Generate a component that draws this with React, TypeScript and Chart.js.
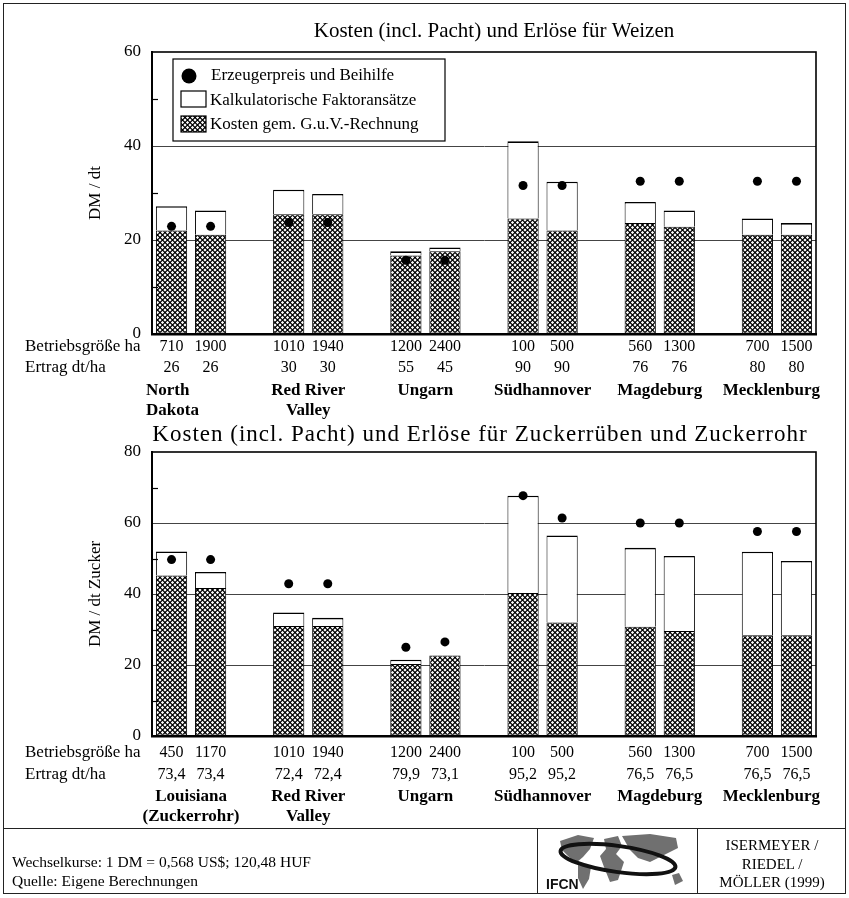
import React, { useEffect, useRef } from 'react';
import { Chart, registerables } from 'chart.js';

Chart.register(...registerables);

const SERIF = '"Liberation Serif", "Times New Roman", serif';

// ---------- Legend labels ----------
const legendLabels = ['Erzeugerpreis und Beihilfe', 'Kalkulatorische Faktoransätze', 'Kosten gem. G.u.V.-Rechnung'];
const rowLabels = ['Betriebsgröße ha', 'Ertrag dt/ha'];

// ---------- Weizen (top chart) ----------
const wheatSizes = ['710', '1900', '1010', '1940', '1200', '2400', '100', '500', '560', '1300', '700', '1500'];
const wheatYields = ['26', '26', '30', '30', '55', '45', '90', '90', '76', '76', '80', '80'];
const wheatRegions = [['North', 'Dakota'], ['Red River', 'Valley'], ['Ungarn'], ['Südhannover'], ['Magdeburg'], ['Mecklenburg']];
const wheatGuV = [22.0, 21.1, 25.5, 25.5, 16.7, 17.6, 24.6, 22.0, 23.6, 22.8, 21.1, 21.1];
const wheatCalc = [5.2, 5.2, 5.2, 4.3, 0.9, 0.8, 16.4, 10.4, 4.5, 3.5, 3.5, 2.5];
const wheatPrice = [22.9, 22.9, 23.7, 23.7, 15.7, 15.7, 31.6, 31.6, 32.5, 32.5, 32.5, 32.5];

// ---------- Zucker (bottom chart) ----------
const sugarSizes = ['450', '1170', '1010', '1940', '1200', '2400', '100', '500', '560', '1300', '700', '1500'];
const sugarYields = ['73,4', '73,4', '72,4', '72,4', '79,9', '73,1', '95,2', '95,2', '76,5', '76,5', '76,5', '76,5'];
const sugarRegions = [['Louisiana', '(Zuckerrohr)'], ['Red River', 'Valley'], ['Ungarn'], ['Südhannover'], ['Magdeburg'], ['Mecklenburg']];
const sugarGuV = [45.2, 41.7, 31.0, 31.0, 20.3, 22.7, 40.3, 32.0, 30.8, 29.6, 28.4, 28.4];
const sugarCalc = [6.8, 4.5, 3.8, 2.3, 1.2, 0, 27.4, 24.5, 22.2, 21.1, 23.5, 20.9];
const sugarPrice = [49.7, 49.7, 42.9, 42.9, 25.0, 26.5, 67.7, 61.4, 60.0, 60.0, 57.6, 57.6];

function expand<T>(arr: T[], gap: T): T[] {
  const out: T[] = [];
  for (let g = 0; g < arr.length / 2; g++) {
    if (g > 0) out.push(gap);
    out.push(arr[2 * g], arr[2 * g + 1]);
  }
  return out;
}

function makeHatch(): any {
  const P = 5;
  const c = document.createElement('canvas');
  c.width = P;
  c.height = P;
  const g = c.getContext('2d')!;
  const img = g.createImageData(P, P);
  const r = 1.75;
  const centers = [[0, 0], [P, 0], [0, P], [P, P], [P / 2, P / 2]];
  const S = 4;
  for (let y = 0; y < P; y++) {
    for (let x = 0; x < P; x++) {
      let cov = 0;
      for (let sy = 0; sy < S; sy++) {
        for (let sx = 0; sx < S; sx++) {
          const px = x + (sx + 0.5) / S;
          const py = y + (sy + 0.5) / S;
          let inside = false;
          for (const [cx, cy] of centers) {
            if (Math.abs(px - cx) + Math.abs(py - cy) < r) inside = true;
          }
          if (inside) cov++;
        }
      }
      const v = Math.round((255 * cov) / (S * S));
      const i = (y * P + x) * 4;
      img.data[i] = v;
      img.data[i + 1] = v;
      img.data[i + 2] = v;
      img.data[i + 3] = 255;
    }
  }
  g.putImageData(img, 0, 0);
  return g.createPattern(c, 'repeat');
}

type PanelCfg = {
  title: string;
  titleSize: number;
  titleSpacing: number;
  titleY: number;
  titleDx: number;
  yTitle: string;
  yMax: number;
  sizes: string[];
  yields: string[];
  regions: string[][];
  guv: number[];
  calc: number[];
  price: number[];
  height: number;
  plotTop: number;
  plotBottom: number;
  tickPad: number;
  tickLH: number;
  regionOffset: number;
  regionLH: number;
  dotRadius: number;
  legend: boolean;
  firstRegionLeft: boolean;
};

const decoPlugin = {
  id: 'deco',
  afterDraw(chart: any, _args: any, opts: any) {
    const cfg: PanelCfg = opts.cfg;
    const hatch = opts.hatch;
    if (!cfg) return;
    const { ctx, chartArea: a, scales } = chart;
    const x = scales.x;
    const y = scales.y;
    ctx.save();
    // plot frame
    ctx.strokeStyle = '#000';
    ctx.lineWidth = 1.6;
    ctx.strokeRect(a.left, a.top, a.right - a.left, a.bottom - a.top);
    // inner minor ticks
    ctx.lineWidth = 1.2;
    for (let v = 10; v < cfg.yMax; v += 20) {
      const py = Math.round(y.getPixelForValue(v)) + 0.5;
      ctx.beginPath();
      ctx.moveTo(a.left, py);
      ctx.lineTo(a.left + 6, py);
      ctx.stroke();
    }
    ctx.fillStyle = '#000';
    // title
    ctx.save();
    ctx.font = `${cfg.titleSize}px ${SERIF}`;
    (ctx as any).letterSpacing = `${cfg.titleSpacing}px`;
    ctx.textAlign = 'center';
    ctx.textBaseline = 'middle';
    ctx.fillText(cfg.title, (a.left + a.right) / 2 + cfg.titleDx, cfg.titleY);
    ctx.restore();
    ctx.textBaseline = 'middle';
    ctx.textAlign = 'center';
    // y title
    ctx.save();
    ctx.font = `17px ${SERIF}`;
    ctx.translate(96, (a.top + a.bottom) / 2);
    ctx.rotate(-Math.PI / 2);
    ctx.fillText(cfg.yTitle, 0, 0);
    ctx.restore();
    // row labels
    ctx.font = `17px ${SERIF}`;
    ctx.textAlign = 'left';
    rowLabels.forEach((t, i) => {
      ctx.fillText(t, 25, x.top + cfg.tickPad + cfg.tickLH / 2 + i * cfg.tickLH);
    });
    // region names
    ctx.font = `bold 17px ${SERIF}`;
    cfg.regions.forEach((lines, g) => {
      const cx = (x.getPixelForValue(3 * g) + x.getPixelForValue(3 * g + 1)) / 2;
      lines.forEach((t, i) => {
        const py = x.top + cfg.regionOffset + i * cfg.regionLH;
        if (g === 0 && cfg.firstRegionLeft) {
          ctx.textAlign = 'left';
          ctx.fillText(t, a.left - 6, py);
        } else {
          const w = ctx.measureText(t).width;
          let px = cx;
          if (px + w / 2 > a.right + 4) px = a.right + 4 - w / 2;
          ctx.textAlign = 'center';
          ctx.fillText(t, px, py);
        }
      });
    });
    // legend
    if (cfg.legend) {
      const lx = a.left + 21;
      const ly = a.top + 7;
      const lw = 272;
      const lh = 82;
      ctx.fillStyle = '#fff';
      ctx.fillRect(lx, ly, lw, lh);
      ctx.strokeStyle = '#000';
      ctx.lineWidth = 1.2;
      ctx.strokeRect(lx, ly, lw, lh);
      ctx.fillStyle = '#000';
      ctx.beginPath();
      ctx.arc(lx + 16, ly + 17, 7.5, 0, Math.PI * 2);
      ctx.fill();
      // white box
      ctx.lineWidth = 1.2;
      ctx.strokeRect(lx + 8, ly + 32, 25, 16);
      // hatched box
      ctx.fillStyle = hatch;
      ctx.fillRect(lx + 8, ly + 57, 25, 16);
      ctx.strokeRect(lx + 8, ly + 57, 25, 16);
      ctx.fillStyle = '#000';
      ctx.font = `17px ${SERIF}`;
      ctx.textAlign = 'left';
      ctx.textBaseline = 'middle';
      ctx.fillText(legendLabels[0], lx + 38, ly + 17);
      ctx.fillText(legendLabels[1], lx + 37, ly + 42);
      ctx.fillText(legendLabels[2], lx + 37, ly + 66);
    }
    ctx.restore();
  },
};

function buildChart(canvas: HTMLCanvasElement, cfg: PanelCfg) {
  const hatch = makeHatch();
  const labels = expand(cfg.sizes.map((s, i) => [s, cfg.yields[i]]), [] as string[]);
  const rightEdge = 816;
  return new Chart(canvas, {
    type: 'bar',
    data: {
      labels: labels as any,
      datasets: [
        {
          type: 'line',
          label: legendLabels[0],
          data: expand(cfg.price, null as any),
          showLine: false,
          pointRadius: cfg.dotRadius,
          pointHoverRadius: cfg.dotRadius,
          pointBackgroundColor: '#000',
          pointBorderColor: '#000',
          pointBorderWidth: 0,
          stack: 'dots',
        } as any,
        {
          type: 'bar',
          label: legendLabels[2],
          data: expand(cfg.guv, null as any),
          backgroundColor: hatch,
          borderColor: '#000',
          borderWidth: 1,
          borderSkipped: false,
          stack: 'cost',
          barPercentage: 0.8,
          categoryPercentage: 1,
        } as any,
        {
          type: 'bar',
          label: legendLabels[1],
          data: expand(cfg.calc, null as any),
          backgroundColor: '#fff',
          borderColor: '#000',
          borderWidth: { top: 1.6, left: 1, right: 1, bottom: 0 },
          borderSkipped: false,
          stack: 'cost',
          barPercentage: 0.8,
          categoryPercentage: 1,
        } as any,
      ],
    },
    options: {
      animation: false,
      responsive: false,
      devicePixelRatio: 1,
      layout: { padding: { left: 0, right: 849 - rightEdge, top: cfg.plotTop, bottom: 0 } },
      plugins: {
        legend: { display: false },
        title: { display: false },
        tooltip: { enabled: false },
        deco: { cfg, hatch },
      } as any,
      scales: {
        x: {
          stacked: true,
          grid: { display: false, drawTicks: false },
          border: { display: true, color: '#000', width: 2.5 },
          ticks: {
            autoSkip: false,
            maxRotation: 0,
            minRotation: 0,
            padding: cfg.tickPad,
            color: '#000',
            font: { family: SERIF, size: 16, lineHeight: cfg.tickLH / 16 },
          },
          afterFit: (s: any) => {
            s.height = cfg.height - cfg.plotBottom;
          },
        },
        y: {
          stacked: true,
          min: 0,
          max: cfg.yMax,
          ticks: {
            stepSize: 10,
            padding: 11,
            color: '#000',
            font: { family: SERIF, size: 17 },
            callback: (v: any) => (Number(v) % 20 === 0 ? String(v) : ''),
          },
          grid: {
            drawTicks: false,
            lineWidth: 1,
            color: (c: any) => {
              const v = c.tick ? c.tick.value : -1;
              return v % 20 === 0 && v > 0 && v < cfg.yMax ? '#444' : 'rgba(0,0,0,0)';
            },
          },
          border: { display: true, color: '#000', width: 2 },
          afterFit: (s: any) => {
            s.width = 152;
          },
        },
      },
    } as any,
    plugins: [decoPlugin as any],
  });
}

const topCfg: PanelCfg = {
  title: 'Kosten (incl. Pacht) und Erlöse für Weizen',
  titleSize: 21,
  titleSpacing: 0,
  titleY: 31,
  titleDx: 10,
  yTitle: 'DM / dt',
  yMax: 60,
  sizes: wheatSizes,
  yields: wheatYields,
  regions: wheatRegions,
  guv: wheatGuV,
  calc: wheatCalc,
  price: wheatPrice,
  height: 420,
  plotTop: 52,
  plotBottom: 334,
  tickPad: 2,
  tickLH: 21,
  regionOffset: 57,
  regionLH: 20,
  dotRadius: 4.5,
  legend: true,
  firstRegionLeft: true,
};

const bottomCfg: PanelCfg = {
  title: 'Kosten (incl. Pacht) und Erlöse für Zuckerrüben und Zuckerrohr',
  titleSize: 23,
  titleSpacing: 1,
  titleY: 15,
  titleDx: -4,
  yTitle: 'DM / dt Zucker',
  yMax: 80,
  sizes: sugarSizes,
  yields: sugarYields,
  regions: sugarRegions,
  guv: sugarGuV,
  calc: sugarCalc,
  price: sugarPrice,
  height: 408,
  plotTop: 32,
  plotBottom: 316,
  tickPad: 6,
  tickLH: 22,
  regionOffset: 61,
  regionLH: 20,
  dotRadius: 4.5,
  legend: false,
  firstRegionLeft: false,
};

function Panel({ cfg, top }: { cfg: PanelCfg; top: number }) {
  const ref = useRef<HTMLCanvasElement>(null);
  useEffect(() => {
    if (!ref.current) return;
    const chart = buildChart(ref.current, cfg);
    return () => chart.destroy();
  }, [cfg]);
  return (
    <canvas
      ref={ref}
      width={849}
      height={cfg.height}
      style={{ position: 'absolute', left: 0, top, width: 849, height: cfg.height }}
    />
  );
}

function Logo() {
  return (
    <svg
      width={158}
      height={64}
      style={{ position: 'absolute', left: 538, top: 829 }}
      viewBox="0 0 158 64"
    >
      <g fill="#707070">
        <path d="M22,12 L40,6 L56,9 L52,20 L45,28 L38,34 L30,27 L24,21 Z" />
        <path d="M40,36 L53,38 L51,50 L45,60 L40,49 Z" />
        <path d="M66,10 L80,7 L84,17 L78,25 L86,33 L80,51 L72,53 L66,38 L62,27 L68,20 Z" />
        <path d="M84,7 L112,5 L138,9 L140,19 L124,27 L112,33 L100,29 L92,21 Z" />
        <path d="M134,46 L141,44 L145,52 L137,56 Z" />
      </g>
      <ellipse cx={80} cy={30} rx={58} ry={13} fill="none" stroke="#111" strokeWidth={4} transform="rotate(8 80 30)" />
      <text x={8} y={60} fontFamily='"Liberation Sans", Arial, sans-serif' fontWeight="bold" fontSize={14} fill="#111">
        IFCN
      </text>
    </svg>
  );
}

export default function App() {
  return (
    <div
      style={{
        position: 'absolute',
        left: 0,
        top: 0,
        width: 849,
        height: 898,
        background: '#fff',
        overflow: 'hidden',
        fontFamily: SERIF,
        color: '#000',
      }}
    >
      <Panel cfg={topCfg} top={0} />
      <Panel cfg={bottomCfg} top={420} />
      {/* outer frame */}
      <div
        style={{
          position: 'absolute',
          left: 3,
          top: 3,
          width: 843,
          height: 891,
          border: '1.5px solid #222',
          boxSizing: 'border-box',
          pointerEvents: 'none',
        }}
      />
      <div style={{ position: 'absolute', left: 3, top: 828, width: 843, height: 0, borderTop: '1.5px solid #222' }} />
      <div style={{ position: 'absolute', left: 537, top: 828, width: 0, height: 66, borderLeft: '1px solid #222' }} />
      <div style={{ position: 'absolute', left: 697, top: 828, width: 0, height: 66, borderLeft: '1px solid #222' }} />
      <div style={{ position: 'absolute', left: 12, top: 852, fontSize: 15.5, lineHeight: '19px', whiteSpace: 'nowrap' }}>
        <div>Wechselkurse: 1 DM = 0,568 US$; 120,48 HUF</div>
        <div>Quelle: Eigene Berechnungen</div>
      </div>
      <Logo />
      <div
        style={{
          position: 'absolute',
          left: 698,
          top: 836,
          width: 148,
          textAlign: 'center',
          fontSize: 15,
          lineHeight: '18.5px',
        }}
      >
        <div>ISERMEYER /</div>
        <div>RIEDEL /</div>
        <div>MÖLLER (1999)</div>
      </div>
    </div>
  );
}
